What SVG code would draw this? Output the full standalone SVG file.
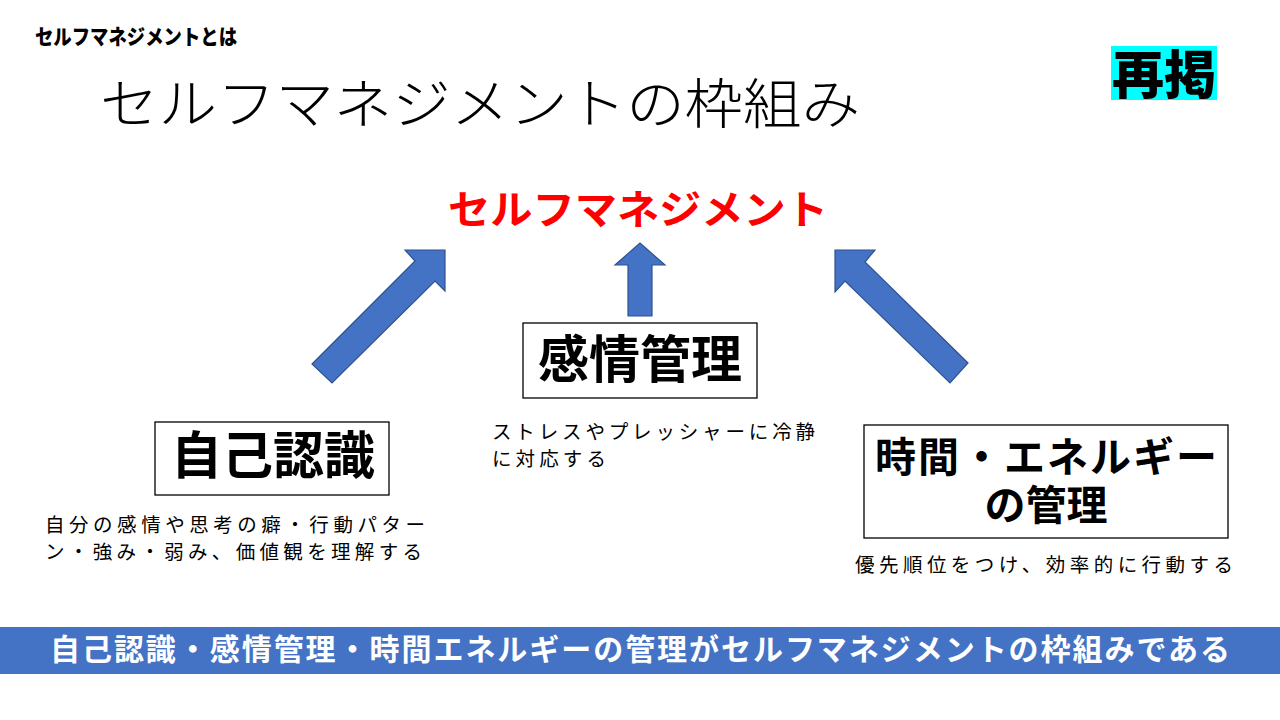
<svg xmlns="http://www.w3.org/2000/svg" width="1280" height="720" viewBox="0 0 1280 720">
<style>
.jp{font-family:"Noto Sans CJK JP","Noto Sans CJK SC",sans-serif;}
.b{font-weight:700;}
.box{fill:#fff;stroke:#000;stroke-width:1.3;}
.arrow{fill:#4472C4;stroke:#2F528F;stroke-width:1.2;}
.desc{font-size:19.5px;fill:#000;}
</style>
<rect width="1280" height="720" fill="#fff"/>
<text class="jp" x="35" y="44" font-size="21" font-weight="900" textLength="202" lengthAdjust="spacingAndGlyphs">セルフマネジメントとは</text>
<text class="jp" x="100" y="124" font-size="54" font-weight="300" textLength="760" lengthAdjust="spacingAndGlyphs">セルフマネジメントの枠組み</text>
<g id="badge">
<rect x="1111" y="46" width="106" height="54" fill="#00FFFF"/>
<text class="jp" x="1164" y="94" font-size="52" font-weight="900" text-anchor="middle">再掲</text>
</g>
<g id="goal">
<text class="jp b" x="448" y="224" font-size="40" fill="#FF0000" textLength="380" lengthAdjust="spacingAndGlyphs">セルフマネジメント</text>
</g>
<g id="connectors">
<polygon class="arrow" points="312,364 415,261 405,250 445,250 445,291 435,281 332,383"/>
<polygon class="arrow" points="628,316 628,265 615,265 640,243 665,265 652,265 652,316"/>
<polygon class="arrow" points="968,363 865,262 875,250 835,250 835,292 845,281 950,383"/>
</g>
<g id="self-awareness">
<rect class="box" x="155" y="422" width="234" height="73"/>
<text class="jp b" x="273" y="474" font-size="51" text-anchor="middle">自己認識</text>
<text class="jp desc" x="45" y="532" textLength="380" lengthAdjust="spacing">自分の感情や思考の癖・行動パター</text>
<text class="jp desc" x="45" y="559" textLength="377" lengthAdjust="spacing">ン・強み・弱み、価値観を理解する</text>
</g>
<g id="emotion">
<rect class="box" x="523" y="323" width="234" height="75"/>
<text class="jp b" x="640" y="378" font-size="51" text-anchor="middle">感情管理</text>
<text class="jp desc" x="492" y="439" textLength="323" lengthAdjust="spacing">ストレスやプレッシャーに冷静</text>
<text class="jp desc" x="492" y="466" textLength="114" lengthAdjust="spacing">に対応する</text>
</g>
<g id="time-energy">
<rect class="box" x="864" y="425" width="364" height="113"/>
<text class="jp b" font-size="41" text-anchor="middle"><tspan x="1046" y="472" textLength="342" lengthAdjust="spacing">時間・エネルギー</tspan><tspan x="1046" y="520">の管理</tspan></text>
<text class="jp desc" x="855" y="572" textLength="378" lengthAdjust="spacing">優先順位をつけ、効率的に行動する</text>
</g>
<g id="banner">
<rect x="0" y="627" width="1280" height="47" fill="#4472C4"/>
<text class="jp b" x="50" y="660" font-size="30" fill="#fff" textLength="1180" lengthAdjust="spacing">自己認識・感情管理・時間エネルギーの管理がセルフマネジメントの枠組みである</text>
</g>
</svg>
